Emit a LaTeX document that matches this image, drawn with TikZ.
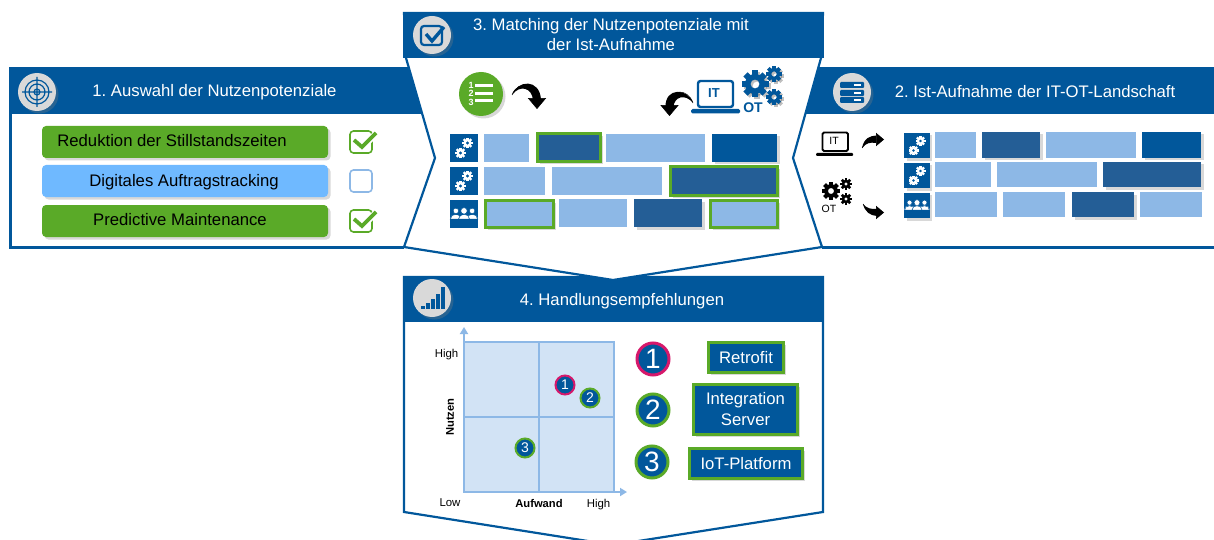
\documentclass[tikz,border=0pt]{standalone}
\usepackage{fontspec}
\setmainfont{Liberation Sans}
\frenchspacing
\usetikzlibrary{arrows.meta,shadows}
\definecolor{panelblue}{HTML}{01579B}
\definecolor{darkbar}{HTML}{245E96}
\definecolor{lightbar}{HTML}{8DB8E6}
\definecolor{matrixfill}{HTML}{D2E3F5}
\definecolor{skybox}{HTML}{6FB9FF}
\definecolor{okgreen}{HTML}{5AAA28}
\definecolor{magentaring}{HTML}{D6186B}
\definecolor{icongrey}{HTML}{D9D9D9}
\tikzset{
  softshadow/.style={drop shadow={opacity=.3,shadow xshift=2.5pt,shadow yshift=-2.5pt}},
  paneltitle/.style={inner sep=0pt,text=white,align=center,font=\fontsize{16.7}{20}\selectfont},
  headicon/.style={circle,fill=icongrey,minimum size=38pt,inner sep=0pt,softshadow},
  panelpen/.style={draw=panelblue,line width=2.2pt,fill=white},
  pill/.style={rounded corners=4pt,softshadow},
  pilltext/.style={inner sep=0pt,font=\fontsize{16.7}{18}\selectfont,text=black},
  tickbox/.style={draw,rounded corners=3.5pt,line width=1.6pt,fill=white,minimum size=22pt,inner sep=0pt},
  tickmark/.style={draw=okgreen,line width=3.8pt},
  squareicon/.style={fill=panelblue,inner sep=0pt},
  bentarrow/.style={line width=.5pt,-{Triangle[width=#1,length=.6*#1]}},
  axislabel/.style={inner sep=0pt,font=\fontsize{11.4}{12}\selectfont},
  smalldot/.style={circle,draw=#1,line width=2pt,fill=panelblue,minimum size=19pt,inner sep=0pt,text=white,font=\fontsize{14}{14}\selectfont},
  bigdot/.style={circle,draw=#1,line width=3pt,fill=panelblue,minimum size=32pt,inner sep=0pt,text=white,font=\fontsize{28}{28}\selectfont},
  actionbox/.style={draw=okgreen,line width=3pt,fill=panelblue,inner sep=0pt,text=white,align=center,font=\fontsize{16.7}{21}\selectfont,softshadow},
  gear/.pic={
    \fill[pic actions,even odd rule] (0,0) circle (1) (0,0) circle (.45);
    \foreach \a in {0,45,...,315}
      \fill[pic actions,rotate=\a] (-.3,.85) rectangle (.3,1.35);
  },
  people/.pic={
    \foreach \px/\pr in {-6.5/2.2,6.5/2.2,0/2.6} {
      \fill[white,draw=panelblue,line width=.5pt] (\px,-2.5) circle (\pr);
      \fill[white,draw=panelblue,line width=.5pt] (\px-4.4,4) .. controls (\px-4.4,-1) and (\px+4.4,-1) .. (\px+4.4,4) -- cycle;
    }
  },
}
\begin{document}
\begin{tikzpicture}[x=1pt,y=-1pt]
  \useasboundingbox (0,0) rectangle (1214,540);
  % panel 1
  \draw[panelpen] (425,68) -- (10.5,68) -- (10.5,247.5) -- (404,247.5);
  \fill[panelblue] (10,67) rectangle (425,114);
  % panel 2
  \draw[panelpen] (800,68) -- (1216,68) -- (1216,247.5) -- (822,247.5);
  \fill[panelblue] (800,67) rectangle (1214,114);
  % panel 4
  \draw[panelpen] (404,277) -- (823,277) -- (823,512) -- (613,545) -- (404,512) -- cycle;
  \fill[panelblue] (403,276) rectangle (824,322);
  % panel 3 lies over the others
  \draw[panelpen] (404,13) -- (823,13) -- (821,58) -- (793,158) -- (822,247) -- (613,280) -- (404,247) -- (435,158) -- (406,58) -- cycle;
  \fill[panelblue] (403,12) rectangle (824,58);
  % the titles
  \node[paneltitle] (title1) at (214.5,92) {1. Auswahl der Nutzenpotenziale};
  \node[paneltitle] (title2) at (1035,92) {2. Ist-Aufnahme der IT-OT-Landschaft};
  \node[paneltitle] (title3) at (611,35) {3. Matching der Nutzenpotenziale mit\\der Ist-Aufnahme};
  \node[paneltitle] (title4) at (622,301) {4. Handlungsempfehlungen};
  % the round icons in the headers
  \node[headicon] (icon1) at (37,92) {};
  \node[headicon] (icon2) at (852,92) {};
  \node[headicon] (icon3) at (432,35) {};
  \node[headicon] (icon4) at (432,298) {};
  \draw[panelblue,line width=1.2pt] (37,92) circle (12) (37,92) circle (8) (37,92) circle (3) (22,92) -- (52,92) (37,77) -- (37,107);
  \foreach \ya/\yb in {82/88,90/96,97/103} {
    \fill[panelblue,rounded corners=1pt] (840,\ya) rectangle (864,\yb);
    \fill[white] (854,\ya+2.4) rectangle (861,\yb-2.4);
  }
  \draw[panelblue,line width=2.2pt,rounded corners=3pt] (421,26) rectangle (442,45);
  \draw[panelblue,line width=3.4pt] (426,34) -- (432,41) -- (444,27);
  \foreach \bx/\bh in {421/3,426/6,431/10,436/15,441/22}
    \fill[panelblue] (\bx,309) rectangle (\bx+3.6,309-\bh);
  % panel 1, the choices
  \fill[okgreen,pill] (42,126) rectangle (328,158);
  \fill[skybox,pill] (42,165) rectangle (328,197);
  \fill[okgreen,pill] (42,205) rectangle (328,237);
  \node[pilltext] (reduktion) at (172,141) {Reduktion der Stillstandszeiten};
  \node[pilltext] (tracking) at (184,182.5) {Digitales Auftragstracking};
  \node[pilltext] (predictive) at (180,220) {Predictive Maintenance};
  \node[tickbox,draw=okgreen] (tick1) at (361,142) {};
  \node[tickbox,draw=lightbar] (tick2) at (361,181) {};
  \node[tickbox,draw=okgreen] (tick3) at (361,221) {};
  \foreach \ty in {142,221} {
    \draw[white,line width=6.5pt] (354,\ty-2) -- (362,\ty+5) -- (377,\ty-9);
    \draw[tickmark] (354,\ty-2) -- (362,\ty+5) -- (376,\ty-9);
  }
  % panel 3, the list and the laptop
  \node[circle,fill=okgreen,minimum size=44pt,inner sep=0pt,softshadow] (listicon) at (481,94) {};
  \foreach \ly in {86,93.5,101}
    \fill[white] (475,\ly-1.5) rectangle (493,\ly+1.5);
  \foreach \ly/\ln in {85/1,93.5/2,102.5/3}
    \node[inner sep=0pt,text=white,font=\bfseries\fontsize{9}{9}\selectfont] (listnum\ln) at (471,\ly) {\ln};
  \draw[panelblue,line width=2.4pt,rounded corners=2.5pt] (698,81) rectangle (733,107);
  \fill[panelblue,rounded corners=1.5pt] (691,109) rectangle (740,113.5);
  \node[inner sep=0pt,text=panelblue,font=\bfseries\fontsize{13}{14}\selectfont] (itlabel) at (714,93) {IT};
  \foreach \dd/\cc/\oo in {2/black/.25,0/panelblue/1} {
    \pic[fill=\cc,opacity=\oo,scale=10] at (755+\dd,84+\dd) {gear};
    \pic[fill=\cc,opacity=\oo,scale=6] at (774+\dd,74+\dd) {gear};
    \pic[fill=\cc,opacity=\oo,scale=6] at (774+\dd,97+\dd) {gear};
  }
  \node[inner sep=0pt,text=panelblue,font=\bfseries\fontsize{14}{14}\selectfont] (otlabel) at (753,108) {OT};
  % panel 3, the bars
  \foreach \xa/\xb/\ya/\yb in {484/529/134/162,606/705/134/162,484/545/167/195,552/662/167/195,559/627/199/227}
    \fill[lightbar] (\xa,\ya) rectangle (\xb,\yb);
  \fill[panelblue,softshadow] (712,134) rectangle (777,162);
  \fill[darkbar,softshadow] (634,199) rectangle (702,227);
  \foreach \xa/\xb/\ya/\yb in {537/600/134/162,670/777/167/195}
    \filldraw[fill=darkbar,draw=okgreen,line width=3pt,softshadow] (\xa,\ya) rectangle (\xb,\yb);
  \foreach \xa/\xb/\ya/\yb in {485/553/200/227,710/777/200/227}
    \filldraw[fill=lightbar,draw=okgreen,line width=3pt,softshadow] (\xa,\ya) rectangle (\xb,\yb);
  \node[squareicon,minimum size=28pt] (sq31) at (464,148) {};
  \node[squareicon,minimum size=28pt] (sq32) at (464,181) {};
  \node[squareicon,minimum size=28pt] (sq33) at (464,214) {};
  \foreach \sy in {148,181} {
    \pic[fill=white,scale=4] at (460.5,\sy+5) {gear};
    \pic[fill=white,scale=4] at (467.5,\sy-5) {gear};
  }
  \pic[scale=1.25] at (464,214) {people};
  % panel 2, laptop and gears
  \draw[black,line width=1.8pt,rounded corners=1.5pt] (822.5,132.5) rectangle (848,151);
  \fill[black,rounded corners=1pt] (816,153) rectangle (853,156);
  \node[inner sep=0pt,font=\fontsize{10.5}{10}\selectfont] (itsmall) at (834,141) {IT};
  \pic[fill=black,scale=6.8] at (831,191) {gear};
  \pic[fill=black,scale=4.4] at (846,184) {gear};
  \pic[fill=black,scale=4.4] at (846,199) {gear};
  \node[inner sep=0pt,font=\fontsize{10.5}{10}\selectfont] (otsmall) at (829,209) {OT};
  % panel 2, the bars
  \foreach \xa/\xb/\ya/\yb in {935/976/132/158,1046/1136/132/158,935/991/162/187,997/1097/162/187,935/997/192/217,1003/1065/192/217,1140/1202/192/217}
    \fill[lightbar] (\xa,\ya) rectangle (\xb,\yb);
  \fill[panelblue,softshadow] (1142,132) rectangle (1201,158);
  \foreach \xa/\xb/\ya/\yb in {982/1040/132/158,1103/1201/162/187,1072/1134/192/217}
    \fill[darkbar,softshadow] (\xa,\ya) rectangle (\xb,\yb);
  \node[squareicon,minimum size=25.5pt,softshadow] (sq21) at (917,145.5) {};
  \node[squareicon,minimum size=25.5pt,softshadow] (sq22) at (917,175.5) {};
  \node[squareicon,minimum size=25.5pt,softshadow] (sq23) at (917,205.5) {};
  \foreach \sy in {145.5,175.5} {
    \pic[fill=white,scale=3.7] at (913.5,\sy+5) {gear};
    \pic[fill=white,scale=3.7] at (920.5,\sy-4.5) {gear};
  }
  \pic[scale=1.15] at (917,205.5) {people};
  % the bent arrows, a swelling body under a thin line with its tip
  \coordinate (a1) at (512,95);
  \coordinate (a2) at (537,109);
  \coordinate (b1) at (693,103);
  \coordinate (b2) at (669.5,116);
  \coordinate (c1) at (862,148);
  \coordinate (c2) at (884,139.5);
  \coordinate (d1) at (863,204);
  \coordinate (d2) at (884,212.5);
  \fill (a1) .. controls (517,80) and (540,78) .. (541,100) -- (533,100) .. controls (532,88) and (520,84) .. (a1);
  \fill (b1) .. controls (688,88) and (665,87) .. (665.5,107) -- (673.5,107) .. controls (674,97) and (685,93) .. (b1);
  \fill (c1) .. controls (864,138) and (870,136) .. (876,135.5) -- (876,143) .. controls (870,142) and (866,143) .. (c1);
  \fill (d1) .. controls (866,208) and (871,209.5) .. (877,209) -- (877,216) .. controls (870,215.5) and (865,212) .. (d1);
  \draw[bentarrow=18pt] (a1) .. controls (517,81) and (537,81) .. (a2);
  \draw[bentarrow=18pt] (b1) .. controls (688,88) and (669.5,88) .. (b2);
  \draw[bentarrow=13pt] (c1) .. controls (866,141) and (873,139.5) .. (c2);
  \draw[bentarrow=13pt] (d1) .. controls (867,211) and (873,212.5) .. (d2);
  % panel 4, the matrix
  \filldraw[fill=matrixfill,draw=lightbar,line width=1.8pt] (464,342) rectangle (614,492);
  \draw[lightbar,line width=1.8pt] (539,342) -- (539,492) (464,417) -- (614,417);
  \coordinate (origin) at (464,492);
  \coordinate (ytop) at (464,327);
  \coordinate (xend) at (627,492);
  \draw[lightbar,line width=1.8pt,-{Triangle[width=8pt,length=7pt]}] (origin) -- (ytop);
  \draw[lightbar,line width=1.8pt,-{Triangle[width=8pt,length=7pt]}] (origin) -- (xend);
  \node[axislabel] (yhigh) at (446.5,354.5) {High};
  \node[axislabel,font=\bfseries\fontsize{11.2}{12}\selectfont,rotate=90] (nutzen) at (450,417) {Nutzen};
  \node[axislabel] (xlow) at (450,503) {Low};
  \node[axislabel,font=\bfseries\fontsize{11.2}{12}\selectfont] (aufwand) at (539,503) {Aufwand};
  \node[axislabel] (xhigh) at (598.5,504.5) {High};
  \node[smalldot=magentaring] (m1) at (565,385) {1};
  \node[smalldot=okgreen] (m2) at (590,398) {2};
  \node[smalldot=okgreen] (m3) at (525,448) {3};
  % panel 4, the measures
  \node[bigdot=magentaring] (n1) at (653,359) {1};
  \node[bigdot=okgreen] (n2) at (653,410) {2};
  \node[bigdot=okgreen] (n3) at (652,462) {3};
  \node[actionbox,minimum width=75pt,minimum height=30pt] (retrofit) at (746,357.5) {Retrofit};
  \node[actionbox,minimum width=104pt,minimum height=50pt] (server) at (745.5,409.5) {Integration\\Server};
  \node[actionbox,minimum width=113pt,minimum height=30pt] (iot) at (746,463.5) {IoT-Platform};
\end{tikzpicture}
\end{document}
